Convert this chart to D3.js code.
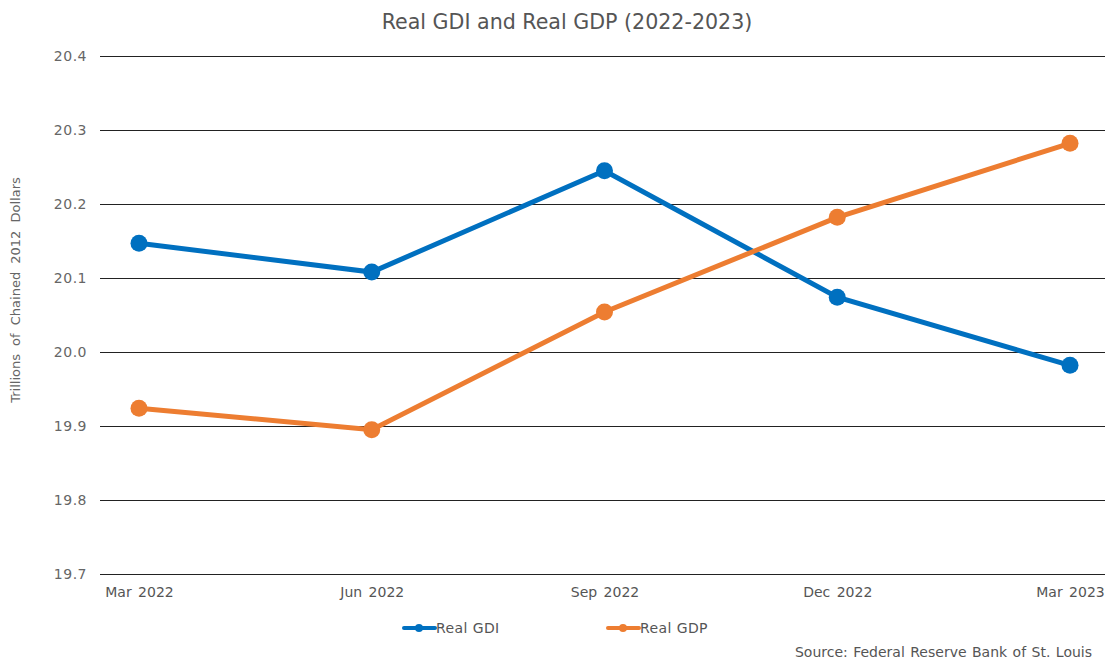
<!DOCTYPE html>
<html>
<head>
<meta charset="utf-8">
<script src="https://cdn.jsdelivr.net/npm/d3@7"></script>
<style>
  body { margin: 0; background: #fff; }
  text { font-family: "DejaVu Sans", Verdana, sans-serif; }
</style>
</head>
<body>
<script>
var quarters = ["Mar 2022", "Jun 2022", "Sep 2022", "Dec 2022", "Mar 2023"];
var gdi = [20.147, 20.108, 20.245, 20.074, 19.982];
var gdp = [19.924, 19.895, 20.054, 20.182, 20.282];
var yTicks = [19.7, 19.8, 19.9, 20.0, 20.1, 20.2, 20.3, 20.4];

var series = [
    {name: "Real GDI", values: gdi, color: "#0070c0"},
    {name: "Real GDP", values: gdp, color: "#ed7d31"}
];

var width = 1105, height = 661;
var plotLeft = 100, plotRight = 1105, plotTop = 56, plotBottom = 574;

var svg = d3.select("body")
  .append("svg")
  .attr("width", width)
  .attr("height", height);

var x = d3.scalePoint()
    .domain(quarters)
    .range([139, 1070]);

var y = d3.scaleLinear()
    .domain([19.7, 20.4])
    .range([plotBottom, plotTop]);

// title
svg.append("text")
  .attr("x", 567)
  .attr("y", 29)
  .attr("text-anchor", "middle")
  .attr("font-size", "20.6px")
  .attr("fill", "#555")
  .text("Real GDI and Real GDP (2022-2023)");

// grid + y labels
var yAxis = svg.append("g")
  .attr("transform", "translate(" + plotLeft + ",0)")
  .call(d3.axisLeft(y).tickValues(yTicks).tickFormat(d3.format(".1f"))
        .tickSize(-(plotRight - plotLeft)).tickPadding(13));
yAxis.select(".domain").remove();
yAxis.selectAll("line").attr("stroke", "#222").attr("stroke-width", 1.2);
yAxis.selectAll("text")
  .attr("fill", "#666")
  .attr("font-size", "14px")
  .attr("letter-spacing", "0.5px")
  .style("font-family", "DejaVu Sans, Verdana, sans-serif");

// x labels
var xAxis = svg.append("g")
  .attr("transform", "translate(0," + plotBottom + ")")
  .call(d3.axisBottom(x).tickSize(0).tickPadding(13));
xAxis.select(".domain").remove();
xAxis.selectAll("text")
  .attr("fill", "#555")
  .attr("font-size", "14px")
  .attr("word-spacing", "2px")
  .style("font-family", "DejaVu Sans, Verdana, sans-serif");

// y title
svg.append("text")
  .attr("transform", "translate(20,290) rotate(-90)")
  .attr("text-anchor", "middle")
  .attr("font-size", "13px")
  .attr("fill", "#666")
  .attr("word-spacing", "4px")
  .text("Trillions of Chained 2012 Dollars");

var line = d3.line()
    .x(function(d, i){ return x(quarters[i]); })
    .y(function(d){ return y(d); });

var groups = svg.selectAll("g.series")
  .data(series)
  .enter().append("g")
  .attr("class", "series");

groups.append("path")
  .attr("d", function(d){ return line(d.values); })
  .attr("fill", "none")
  .attr("stroke", function(d){ return d.color; })
  .attr("stroke-width", 5);

groups.each(function(s){
    d3.select(this).selectAll("circle")
      .data(s.values)
      .enter().append("circle")
      .attr("cx", function(d, i){ return x(quarters[i]); })
      .attr("cy", function(d){ return y(d); })
      .attr("r", 8.5)
      .attr("fill", s.color);
});

// legend
var legend = svg.selectAll("g.legend")
  .data(series)
  .enter().append("g")
  .attr("class", "legend")
  .attr("transform", function(d, i){ return "translate(" + (404 + i * 204) + ",628)"; });

legend.append("line")
  .attr("x1", 0).attr("x2", 31)
  .attr("stroke", function(d){ return d.color; })
  .attr("stroke-width", 4)
  .attr("stroke-linecap", "round");
legend.append("circle")
  .attr("cx", 15).attr("r", 4)
  .attr("fill", function(d){ return d.color; });
legend.append("text")
  .attr("x", 32)
  .attr("y", 5)
  .attr("font-size", "14px")
  .attr("letter-spacing", "0.4px")
  .attr("fill", "#555")
  .text(function(d){ return d.name; });

// source
svg.append("text")
  .attr("x", 1092)
  .attr("y", 657)
  .attr("text-anchor", "end")
  .attr("font-size", "14px")
  .attr("word-spacing", "1px")
  .attr("fill", "#555")
  .text("Source: Federal Reserve Bank of St. Louis");
</script>
</body>
</html>
